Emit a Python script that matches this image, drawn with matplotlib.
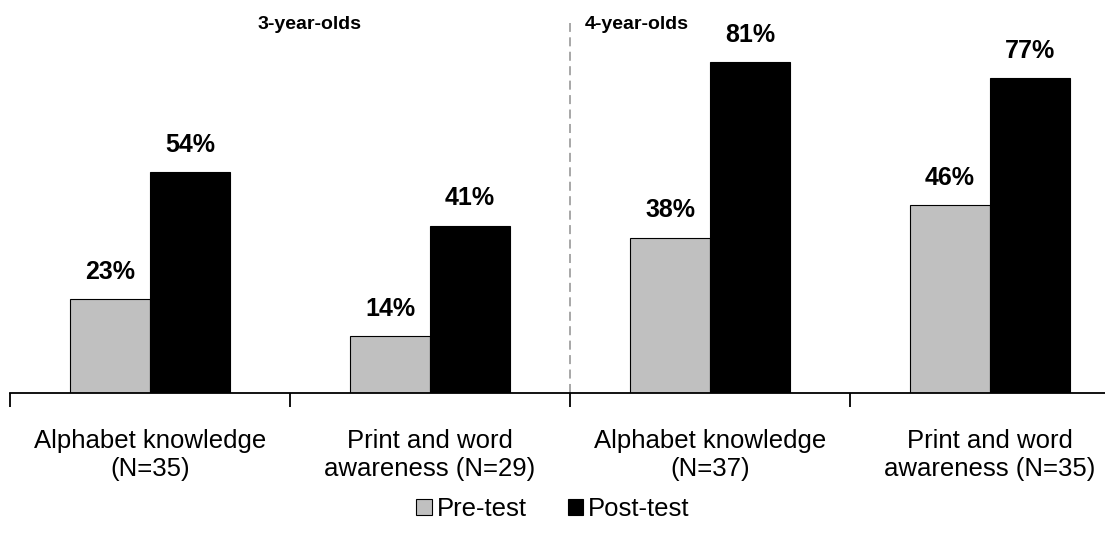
import matplotlib.pyplot as plt
import numpy as np

plt.rcParams['font.family'] = ['Liberation Sans', 'DejaVu Sans']

categories = ['Alphabet knowledge\n(N=35)', 'Print and word\nawareness (N=29)',
              'Alphabet knowledge\n(N=37)', 'Print and word\nawareness (N=35)']
pre_test = [23, 14, 38, 46]
post_test = [54, 41, 81, 77]
groups = ['3-year-olds', '4-year-olds']

fig = plt.figure(figsize=(11.05, 5.46), dpi=100)
ax = fig.add_axes([10 / 1105, 153 / 546, 1120 / 1105, 393 / 546])

x = np.arange(len(categories))
w = 0.2857
pre = ax.bar(x - w / 2, pre_test, w, color='#c0c0c0', edgecolor='black', linewidth=0.8, label='Pre-test')
post = ax.bar(x + w / 2, post_test, w, color='black', edgecolor='black', linewidth=0.8, label='Post-test')

for bars, vals in [(pre, pre_test), (post, post_test)]:
    for b, v in zip(bars, vals):
        ax.annotate(f'{v}%', (b.get_x() + b.get_width() / 2, v), xytext=(0, 11),
                    textcoords='offset points', ha='center', va='bottom',
                    fontsize=18, fontweight='bold')

# divider between age groups
ax.plot([1.5, 1.5], [0, 90.5], ls=(0, (5, 3)), color='#a0a0a0', lw=1.3, clip_on=False)
ax.text(0.57, 90.3, groups[0], ha='center', va='center', fontsize=14, fontweight='bold')
ax.text(1.74, 90.3, groups[1], ha='center', va='center', fontsize=14, fontweight='bold')

ax.set_xlim(-0.5, 3.5)
ax.set_ylim(0, 96.2)
ax.set_xticks(np.arange(-0.5, 4, 1))
ax.set_xticklabels([])
ax.set_xticks(x, minor=True)
ax.set_xticklabels(categories, minor=True, fontsize=18.5)
ax.tick_params(axis='x', which='major', length=10, width=1.3, direction='out')
ax.tick_params(axis='x', which='minor', length=0, pad=26)
ax.set_yticks([])
for s in ['top', 'right', 'left']:
    ax.spines[s].set_visible(False)
ax.spines['bottom'].set_linewidth(1.3)

fig.legend(handles=[pre, post], loc='center', bbox_to_anchor=(553 / 1105, 1 - 509 / 546),
           ncol=2, frameon=False, fontsize=18.5, handlelength=0.6, handleheight=0.6,
           handletextpad=0.2, columnspacing=1.6)

fig.savefig('out.png', dpi=100)
